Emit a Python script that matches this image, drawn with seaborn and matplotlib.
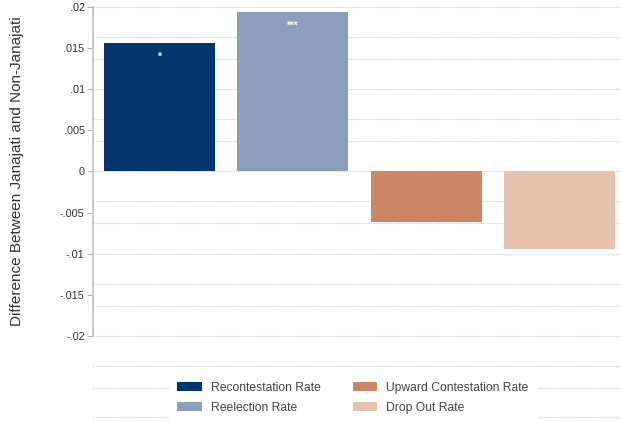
import seaborn as sns
import matplotlib.pyplot as plt
import pandas as pd

# values
categories = ['Recontestation Rate', 'Reelection Rate',
              'Upward Contestation Rate', 'Drop Out Rate']
differences = [0.0156, 0.0194, -0.0061, -0.0094]
stars = ['*', '***', '', '']
colors = ['#00346a', '#8b9fbb', '#cd8665', '#e5c1b0']
yticks = [0.02, 0.015, 0.01, 0.005, 0, -0.005, -0.01, -0.015, -0.02]
ytick_labels = ['.02', '.015', '.01', '.005', '0', '-.005', '-.01', '-.015', '-.02']
# dotted background lines of the original graph region
grid_levels = [0.02, 0.01635, 0.0137, 0.01, 0.00635, 0.0037, 0.0,
               -0.00365, -0.0063, -0.01, -0.01365, -0.0163, -0.02,
               -0.02365, -0.0263, -0.0298]

sns.set_style('white')
plt.rcParams['font.family'] = ['Liberation Sans', 'DejaVu Sans']

df = pd.DataFrame({'cat': categories, 'diff': differences})

fig = plt.figure(figsize=(6.21, 4.21), dpi=100)
ax = fig.add_axes([93 / 621, 1 - 336 / 421, 1 - 93 / 621, (336 - 6.7) / 421])

for g in grid_levels:
    ax.axhline(g, color='#cdcdcd', lw=0.9, ls=(0, (1, 1)), zorder=0, clip_on=False)

sns.barplot(data=df, x='cat', y='diff', hue='cat', palette=colors,
            width=0.833, saturation=1, edgecolor='none', ax=ax, legend=True, zorder=2)

for i, (v, s) in enumerate(zip(differences, stars)):
    if s:
        ax.annotate(s, xy=(i, v), xytext=(0, -10), textcoords='offset points',
                    ha='center', va='center', color='white', fontsize=7, fontweight='bold')

ax.set_xlim(-0.499, 3.462)
ax.set_ylim(-0.02, 0.02)
ax.set_yticks(yticks)
ax.set_yticklabels(ytick_labels)
ax.set_xticks([])
ax.set_xlabel('')
ax.set_ylabel('')
ax.tick_params(axis='y', length=4, width=0.8, color='#b0b0b0', labelsize=7.8,
               labelcolor='#333333', pad=2, left=True)
for side in ['top', 'right', 'bottom']:
    ax.spines[side].set_visible(False)
ax.spines['left'].set_color('#c0c0c0')
ax.spines['left'].set_linewidth(1.2)

fig.text(17 / 621, 1 - 171 / 421, 'Difference Between Janajati and Non-Janajati',
         rotation=90, ha='center', va='center', fontsize=11, color='#333333')

handles, labels = ax.get_legend_handles_labels()
ax.get_legend().remove()
leg = fig.legend(handles, labels, ncol=2, loc='center',
                 bbox_to_anchor=(353 / 621, 1 - 398 / 421),
                 frameon=True, facecolor='white', edgecolor='none', framealpha=1,
                 fontsize=8.7, handlelength=2.0, handleheight=0.75,
                 handletextpad=0.75, columnspacing=2.7, labelspacing=0.65,
                 borderpad=0.7, fancybox=False, labelcolor='#444444')

fig.savefig('out.png', dpi=100)
